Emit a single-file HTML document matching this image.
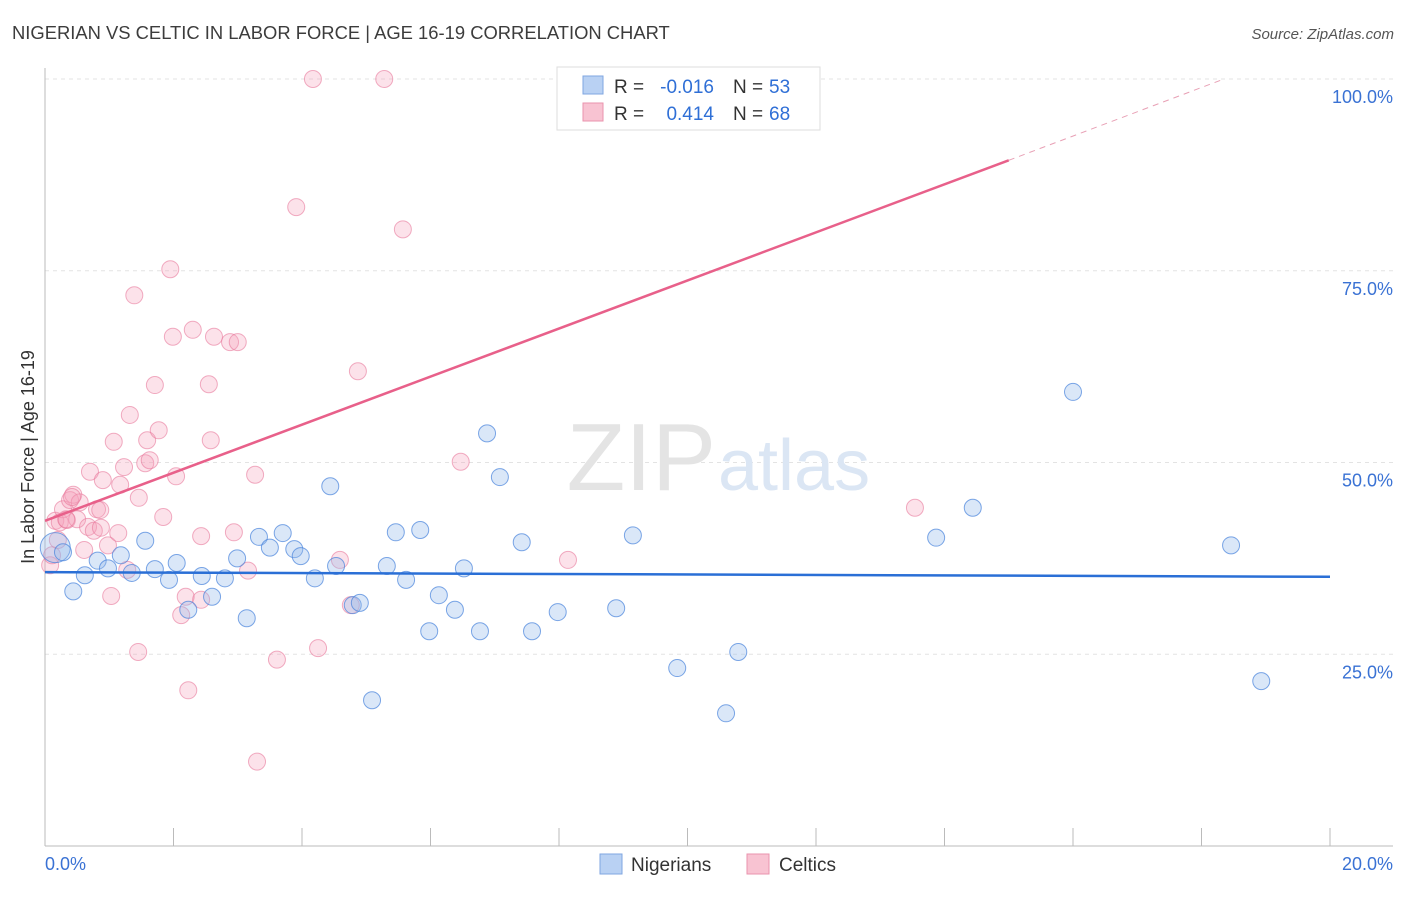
<!DOCTYPE html>
<html><head><meta charset="utf-8"><style>
body{margin:0;background:#fff;font-family:"Liberation Sans",sans-serif;}
svg text{font-family:"Liberation Sans",sans-serif;}
</style></head><body>
<svg width="1406" height="892" viewBox="0 0 1406 892" xmlns="http://www.w3.org/2000/svg">
<text x="12" y="39" font-size="18.4" fill="#3c3c3c">NIGERIAN VS CELTIC IN LABOR FORCE | AGE 16-19 CORRELATION CHART</text>
<text x="1394" y="39" font-size="15" fill="#555" font-style="italic" text-anchor="end">Source: ZipAtlas.com</text>
<g id="grid"></g>
<text x="716" y="490" font-size="96" fill="#e4e4e4" text-anchor="end" font-family="Liberation Serif">ZIP</text>
<text x="718" y="490" font-size="72" fill="#dbe6f4">atlas</text>
<g id="axes"></g>
<text transform="translate(34,457) rotate(-90)" font-size="18" fill="#333" text-anchor="middle">In Labor Force | Age 16-19</text>
<g id="pts"></g>
<g id="trend"></g>
<g>
<rect x="557" y="67" width="263" height="63" fill="#fff" stroke="#ddd"/>
<rect x="583" y="76" width="20" height="18" fill="#b9d1f3" stroke="#7fa6e0"/>
<rect x="583" y="103" width="20" height="18" fill="#f8c3d2" stroke="#ea93ad"/>
<text x="614" y="93" font-size="19" fill="#333">R =</text>
<text x="714" y="93" font-size="19" fill="#2f6fd6" text-anchor="end">-0.016</text>
<text x="733" y="93" font-size="19" fill="#333">N =</text>
<text x="769" y="93" font-size="19" fill="#2f6fd6">53</text>
<text x="614" y="120" font-size="19" fill="#333">R =</text>
<text x="714" y="120" font-size="19" fill="#2f6fd6" text-anchor="end">0.414</text>
<text x="733" y="120" font-size="19" fill="#333">N =</text>
<text x="769" y="120" font-size="19" fill="#2f6fd6">68</text>
</g>
<g>
<rect x="600" y="854" width="22" height="20" fill="#b9d1f3" stroke="#7fa6e0"/>
<text x="631" y="871" font-size="19" fill="#333">Nigerians</text>
<rect x="747" y="854" width="22" height="20" fill="#f8c3d2" stroke="#ea93ad"/>
<text x="779" y="871" font-size="19" fill="#333">Celtics</text>
</g>
</svg>
<script>
const blueX=[0.16,0.28,0.44,0.62,0.82,0.98,1.18,1.35,1.56,1.71,1.93,2.05,2.23,2.44,2.60,2.80,2.99,3.14,3.33,3.50,3.70,3.88,3.98,4.20,4.44,4.53,4.79,4.90,5.09,5.32,5.46,5.62,5.84,5.98,6.13,6.38,6.52,6.77,6.88,7.08,7.42,7.58,7.98,8.89,9.15,9.84,10.60,10.79,13.87,14.44,16.00,18.46,18.93];
const blueY=[38.9,38.3,33.2,35.3,37.2,36.2,37.9,35.6,39.8,36.1,34.7,36.9,30.8,35.2,32.5,34.9,37.5,29.7,40.3,38.9,40.8,38.7,37.8,34.9,46.9,36.5,31.4,31.7,19.0,36.5,40.9,34.7,41.2,28.0,32.7,30.8,36.2,28.0,53.8,48.1,39.6,28.0,30.5,31.0,40.5,23.2,17.3,25.3,40.2,44.1,59.2,39.2,21.5];
const pinkX=[0.08,0.11,0.16,0.23,0.28,0.34,0.39,0.44,0.50,0.54,0.61,0.67,0.70,0.76,0.81,0.87,0.90,0.98,1.03,1.07,1.14,1.17,1.23,1.28,1.32,1.39,1.45,1.46,1.56,1.59,1.63,1.71,1.77,1.84,1.95,1.99,2.04,2.12,2.19,2.23,2.30,2.43,2.43,2.55,2.58,2.63,2.88,2.94,3.00,3.16,3.27,3.30,3.61,3.91,4.17,4.25,4.59,4.76,4.87,5.28,5.57,6.47,8.14,13.54,0.20,0.33,0.42,0.86];
const pinkY=[36.6,37.9,42.4,42.2,43.9,42.5,45.1,45.8,42.6,44.8,38.6,41.6,48.8,41.1,43.9,41.5,47.7,39.2,32.6,52.7,40.8,47.1,49.4,36.0,56.2,71.8,25.3,45.4,49.9,52.9,50.3,60.1,54.2,42.9,75.2,66.4,48.2,30.1,32.5,20.3,67.3,40.4,32.1,60.2,52.9,66.4,65.7,40.9,65.7,35.9,48.4,11.0,24.3,83.3,100,25.8,37.3,31.4,61.9,100,80.4,50.1,37.3,44.1,39.9,42.6,45.5,43.8];
const blueTrendX=[0,20], blueTrendY=[35.7,35.1];
const pinkTrendX=[0,15.0], pinkTrendY=[42.4,89.4];
const pinkDashX=[15.0,18.35], pinkDashY=[89.4,100];
const yTicks=[25,50,75,100], yTickLabels=["25.0%","50.0%","75.0%","100.0%"];
const NS="http://www.w3.org/2000/svg";
const sx=v=>45+v/20*1285, sy=v=>846-v/100*767;
function mk(t,a,p){const e=document.createElementNS(NS,t);for(const k in a)e.setAttribute(k,a[k]);p.appendChild(e);return e;}
const grid=document.getElementById('grid'), axes=document.getElementById('axes');
yTicks.forEach((v,i)=>{
 const l=mk('line',{x1:45,x2:1393,y1:sy(v),y2:sy(v),stroke:'#e3e3e3','stroke-dasharray':'4,4'},grid);
 
 
 const t=mk('text',{x:1393,y:sy(v)+24,'font-size':18,fill:'#3a72d4','text-anchor':'end'},axes);
 t.textContent=yTickLabels[i];
 
 
});
mk('line',{x1:45,x2:45,y1:68,y2:846,stroke:'#bbb'},axes);
mk('line',{x1:45,x2:1393,y1:846,y2:846,stroke:'#bbb'},axes);
for(let k=0;k<=10;k++){const l=mk('line',{x1:sx(k*2),x2:sx(k*2),y1:828,y2:846,stroke:'#bbb'},axes);
 
 }
let t=mk('text',{x:45,y:870,'font-size':18,fill:'#3a72d4'},axes);t.textContent='0.0%';


t=mk('text',{x:1393,y:870,'font-size':18,fill:'#3a72d4','text-anchor':'end'},axes);t.textContent='20.0%';


const pts=document.getElementById('pts');
pinkX.forEach((x,i)=>{const c=mk('circle',{cx:sx(x),cy:sy(pinkY[i]),r:8.5,fill:'rgba(244,160,185,0.3)',stroke:'rgba(232,120,155,0.6)','stroke-width':1},pts);
 
 });
blueX.forEach((x,i)=>{const c=mk('circle',{cx:sx(x),cy:sy(blueY[i]),r:i==0?15:8.5,fill:'rgba(150,185,235,0.35)',stroke:'rgba(70,130,220,0.7)','stroke-width':1},pts);
 
 });
const tr=document.getElementById('trend');
let L=mk('line',{x1:sx(blueTrendX[0]),y1:sy(blueTrendY[0]),x2:sx(blueTrendX[1]),y2:sy(blueTrendY[1]),stroke:'#2a6fd6','stroke-width':2.5},tr);


L=mk('line',{x1:sx(pinkTrendX[0]),y1:sy(pinkTrendY[0]),x2:sx(pinkTrendX[1]),y2:sy(pinkTrendY[1]),stroke:'#e8608a','stroke-width':2.5},tr);


L=mk('line',{x1:sx(pinkDashX[0]),y1:sy(pinkDashY[0]),x2:sx(pinkDashX[1]),y2:sy(pinkDashY[1]),stroke:'#e8a0b5','stroke-width':1,'stroke-dasharray':'6,5'},tr);


</script>
</body></html>
